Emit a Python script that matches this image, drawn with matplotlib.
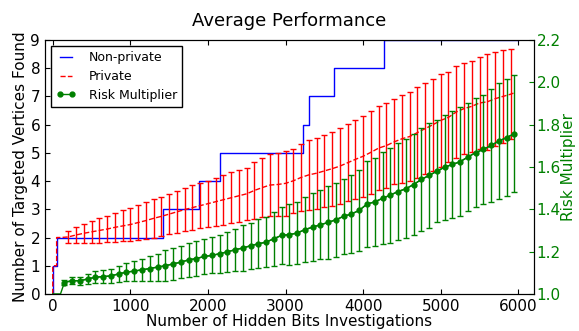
import matplotlib
matplotlib.use("Agg")
import matplotlib.pyplot as plt
import numpy as np

plt.rcParams['font.family'] = ['DejaVu Sans']
plt.rcParams['font.size'] = 11
plt.rcParams['xtick.direction'] = 'in'
plt.rcParams['ytick.direction'] = 'in'
plt.rcParams['xtick.top'] = True

# non-private: step change points
blue_x = [0, 0, 50, 1420, 1880, 2150, 3230, 3300, 3630, 4275, 5990]
blue_y = [0, 1, 2, 3, 4, 5, 6, 7, 8, 9, 9]

# private: mean with error bars every 100
red_start_x = [0, 0, 50, 50, 100]
red_start_y = [0, 1, 1, 2, 2]
red_x = list(range(200, 6000, 100))
red_mean = [2.02, 2.09, 2.15, 2.20, 2.25, 2.30, 2.36, 2.41, 2.46, 2.53,
            2.60, 2.68, 2.75, 2.83, 2.91, 2.99, 3.06, 3.13, 3.20, 3.27,
            3.34, 3.41, 3.48, 3.55, 3.67, 3.77, 3.86, 3.88, 3.92, 4.01,
            4.13, 4.22, 4.28, 4.36, 4.44, 4.53, 4.65, 4.77, 4.88, 5.02,
            5.17, 5.26, 5.39, 5.50, 5.58, 5.72, 5.86, 6.00, 6.15, 6.26,
            6.45, 6.57, 6.65, 6.77, 6.81, 6.92, 7.00, 7.08]
red_err = [0.21, 0.27, 0.33, 0.38, 0.43, 0.47, 0.51, 0.55, 0.58, 0.62,
           0.65, 0.68, 0.70, 0.72, 0.75, 0.77, 0.80, 0.81, 0.82, 0.85,
           0.88, 0.90, 0.92, 0.92, 1.01, 1.04, 1.11, 1.10, 1.15, 1.14,
           1.20, 1.23, 1.26, 1.28, 1.31, 1.34, 1.37, 1.40, 1.43, 1.47,
           1.50, 1.50, 1.51, 1.56, 1.58, 1.60, 1.61, 1.63, 1.65, 1.59,
           1.62, 1.62, 1.61, 1.64, 1.71, 1.66, 1.64, 1.60]
red_end_x = [5950]
red_end_y = [7.13]

# risk multiplier (right axis)
green_start_x = [0, 100]
green_start_y = [1.0, 1.0]
green_x = list(range(150, 6000, 100))
green_mean = [1.054, 1.063, 1.062, 1.071, 1.079, 1.082, 1.085, 1.095, 1.103, 1.108,
              1.114, 1.120, 1.127, 1.133, 1.142, 1.150, 1.161, 1.167, 1.177, 1.182,
              1.190, 1.199, 1.209, 1.217, 1.228, 1.237, 1.245, 1.261, 1.277, 1.280,
              1.288, 1.304, 1.316, 1.327, 1.338, 1.351, 1.367, 1.378, 1.395, 1.425,
              1.435, 1.452, 1.467, 1.484, 1.497, 1.517, 1.541, 1.560, 1.580, 1.599,
              1.612, 1.625, 1.647, 1.668, 1.683, 1.702, 1.723, 1.739, 1.758]
green_err = [0.010, 0.017, 0.020, 0.024, 0.028, 0.031, 0.034, 0.038, 0.043, 0.047,
             0.052, 0.057, 0.064, 0.073, 0.075, 0.077, 0.079, 0.081, 0.083, 0.085,
             0.090, 0.095, 0.100, 0.107, 0.109, 0.116, 0.118, 0.128, 0.136, 0.143,
             0.145, 0.154, 0.162, 0.164, 0.171, 0.175, 0.178, 0.183, 0.193, 0.205,
             0.209, 0.217, 0.224, 0.231, 0.234, 0.240, 0.243, 0.248, 0.242, 0.248,
             0.254, 0.257, 0.257, 0.258, 0.259, 0.268, 0.273, 0.275, 0.275]

fig = plt.figure(figsize=(5.79, 3.31), dpi=100)
ax = fig.add_axes([0.0777, 0.112, 0.8443, 0.767])
ax2 = ax.twinx()

l1, = ax.step(blue_x, blue_y, where='post', color='b', lw=1, label='Non-private')
l2, = ax.plot(red_start_x + red_x + red_end_x, red_start_y + red_mean + red_end_y,
              'r--', lw=1, label='Private')
ax.errorbar(red_x, red_mean, yerr=red_err, fmt='none', ecolor='r', elinewidth=1,
            capsize=2, capthick=1)

ax2.plot(green_start_x + green_x, green_start_y + green_mean, 'g-', lw=1)
ax2.errorbar(green_x, green_mean, yerr=green_err, fmt='none', ecolor='g', elinewidth=1,
             capsize=2, capthick=1)
l3, = ax2.plot(green_x, green_mean, 'g-o', lw=1, ms=3.5, mec='g', label='Risk Multiplier')

ax.set_xlim(-100, 6200)
ax.set_ylim(0, 9)
ax.set_xticks(range(0, 7000, 1000))
ax.set_yticks(range(0, 10))
ax2.set_ylim(1.0, 2.2)
ax2.set_yticks([1.0, 1.2, 1.4, 1.6, 1.8, 2.0, 2.2])
ax2.tick_params(axis='y', colors='g', pad=2)

ax.set_xlabel("Number of Hidden Bits Investigations", labelpad=0)
ax.set_ylabel("Number of Targeted Vertices Found", labelpad=2)
ax2.set_ylabel("Risk Multiplier", color='g', labelpad=0)
ax.set_title("Average Performance", fontsize=13, pad=10)

leg = ax2.legend([l1, l2, l3], ['Non-private', 'Private', 'Risk Multiplier'],
                 loc='upper left', fontsize=9, numpoints=2, fancybox=False,
                 framealpha=1, edgecolor='k', borderaxespad=0.5,
                 handlelength=1.6, handletextpad=1.0, labelspacing=0.45)
leg.get_frame().set_linewidth(1)

fig.savefig("out.png", dpi=100)
